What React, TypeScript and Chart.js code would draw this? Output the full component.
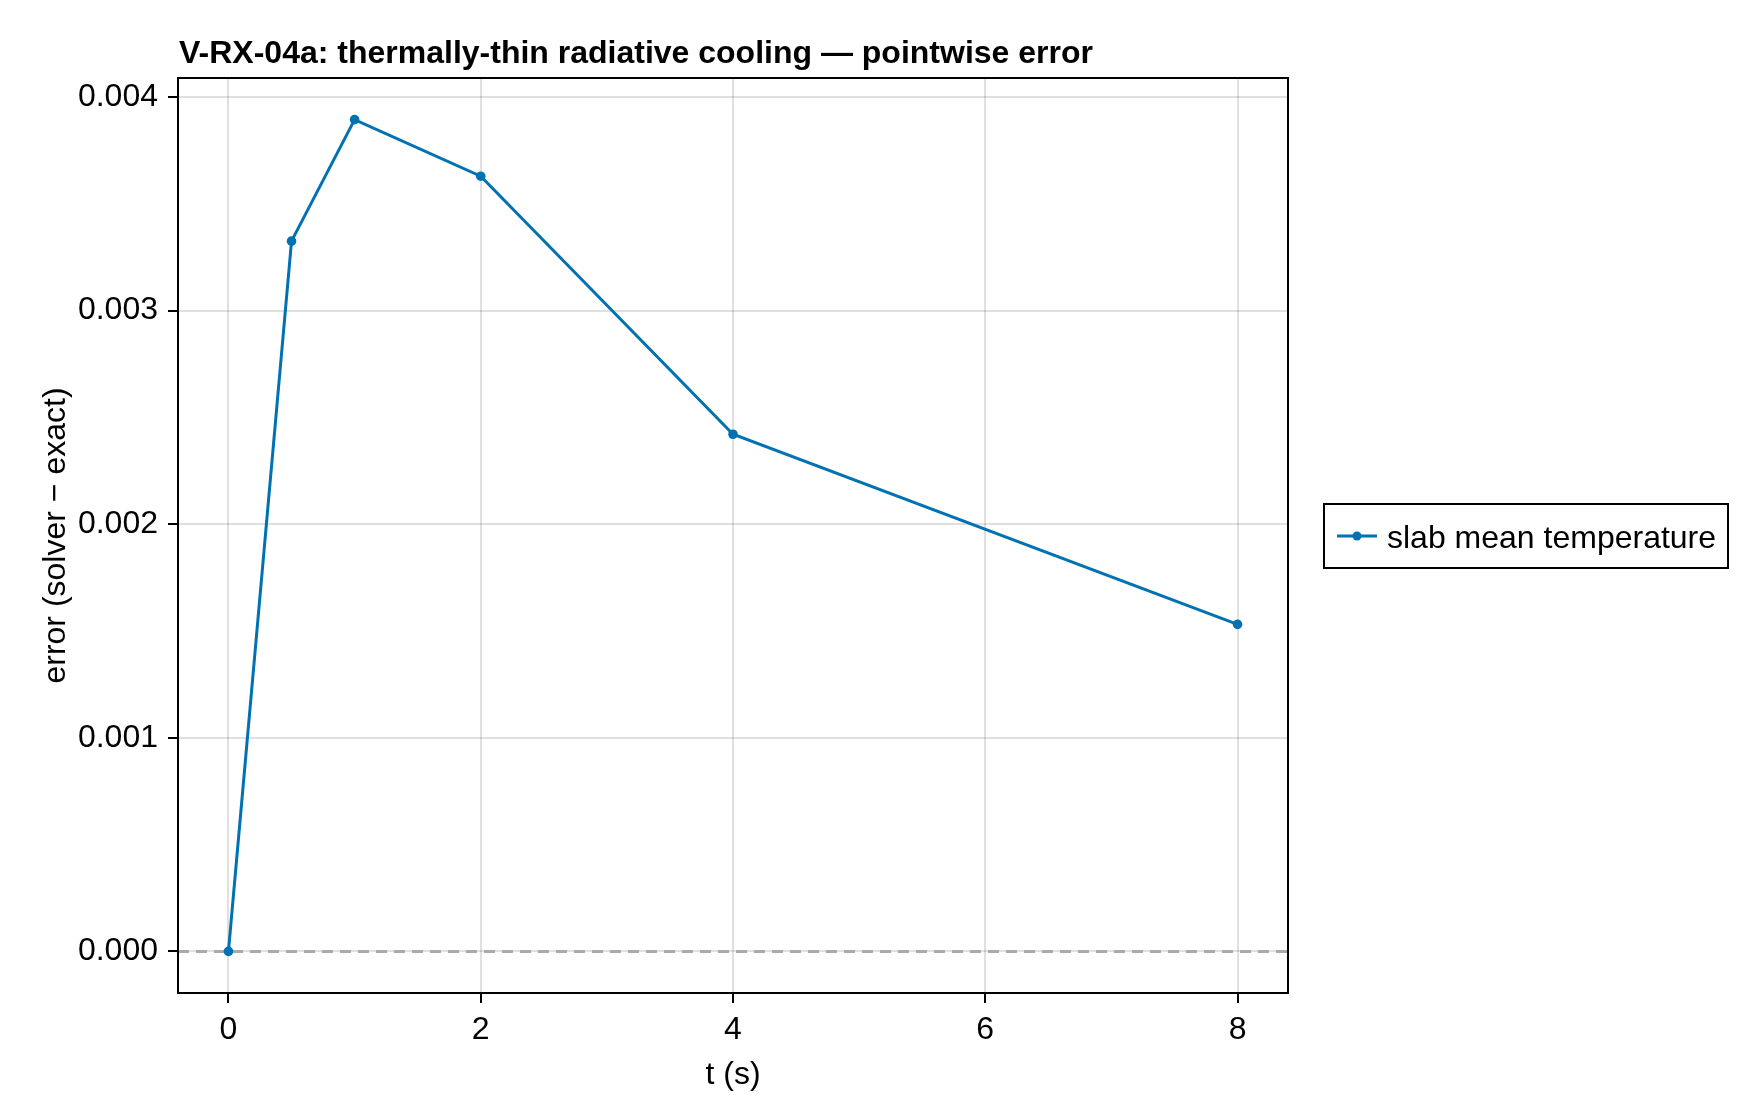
import { useEffect, useRef } from "react";
import { Chart, registerables } from "chart.js";

Chart.register(...registerables);

// ---- data ----
const tValues = [0, 0.5, 1, 2, 4, 8];
const errorValues = [0, 0.003325, 0.003894, 0.003629, 0.002421, 0.001531];
const xTicks = [0, 2, 4, 6, 8];
const yTicks = [0, 0.001, 0.002, 0.003, 0.004];
const seriesLabel = "slab mean temperature";
const referenceLevel = 0;
const titleText = "V-RX-04a: thermally-thin radiative cooling — pointwise error";
const xTitle = "t (s)";
const yTitle = "error (solver − exact)";

const FONT = "'Liberation Sans', Arial, Helvetica, sans-serif";
const BLUE = "#0072B2";

function paddedRange(vals: number[]) {
  const lo = Math.min(...vals);
  const hi = Math.max(...vals);
  const pad = (hi - lo) * 0.05;
  return [lo - pad, hi + pad];
}

const decorPlugin = {
  id: "decor",
  beforeDatasetsDraw(chart: any) {
    const { ctx, chartArea: a, scales } = chart;
    const py = scales.y.getPixelForValue(referenceLevel);
    ctx.save();
    ctx.beginPath();
    ctx.rect(a.left, a.top, a.right - a.left, a.bottom - a.top);
    ctx.clip();
    ctx.strokeStyle = "#aaaaaa";
    ctx.lineWidth = 3;
    ctx.setLineDash([11, 7]);
    ctx.beginPath();
    ctx.moveTo(a.left, py);
    ctx.lineTo(a.right, py);
    ctx.stroke();
    ctx.restore();
  },
  afterDraw(chart: any) {
    const { ctx, chartArea: a } = chart;
    ctx.save();
    // frame
    ctx.strokeStyle = "#000";
    ctx.lineWidth = 2;
    ctx.setLineDash([]);
    ctx.strokeRect(a.left, a.top, a.right - a.left, a.bottom - a.top);
    // title
    ctx.fillStyle = "#000";
    ctx.font = `bold 32px ${FONT}`;
    ctx.textAlign = "left";
    ctx.textBaseline = "alphabetic";
    ctx.fillText(titleText, a.left + 1, 63);
    // legend
    const bx = 1324, by = 504, bw = 404, bh = 64;
    ctx.lineWidth = 2;
    ctx.strokeRect(bx, by, bw, bh);
    const cy = by + bh / 2;
    ctx.strokeStyle = BLUE;
    ctx.lineWidth = 3;
    ctx.beginPath();
    ctx.moveTo(bx + 13, cy);
    ctx.lineTo(bx + 53, cy);
    ctx.stroke();
    ctx.fillStyle = BLUE;
    ctx.beginPath();
    ctx.arc(bx + 33, cy, 4.5, 0, Math.PI * 2);
    ctx.fill();
    ctx.fillStyle = "#000";
    ctx.font = `32px ${FONT}`;
    ctx.textBaseline = "alphabetic";
    ctx.fillText(chart.data.datasets[0].label, bx + 63, cy + 12);
    ctx.restore();
  },
};

export default function App() {
  const ref = useRef<HTMLCanvasElement | null>(null);

  useEffect(() => {
    document.body.style.margin = "0";
    const canvas = ref.current;
    if (!canvas) return;
    const [xMin, xMax] = paddedRange(tValues);
    const [yMin, yMax] = paddedRange(errorValues);

    const chart = new Chart(canvas, {
      type: "line",
      data: {
        datasets: [
          {
            label: seriesLabel,
            data: tValues.map((t, i) => ({ x: t, y: errorValues[i] })),
            borderColor: BLUE,
            backgroundColor: BLUE,
            borderWidth: 3,
            pointRadius: 4.8,
            pointHoverRadius: 4.8,
            pointBorderWidth: 0,
            pointBackgroundColor: BLUE,
            tension: 0,
            fill: false,
          },
        ],
      },
      options: {
        animation: false,
        responsive: false,
        maintainAspectRatio: false,
        devicePixelRatio: 1,
        layout: { padding: { top: 78, right: 472, left: 0, bottom: 0 } },
        plugins: {
          legend: { display: false },
          title: { display: false },
          tooltip: { enabled: false },
        },
        scales: {
          x: {
            type: "linear",
            min: xMin,
            max: xMax,
            afterBuildTicks: (s: any) => {
              s.ticks = xTicks.map((v) => ({ value: v }));
            },
            afterFit: (s: any) => {
              s.height = 127;
            },
            border: { display: false },
            grid: {
              color: "rgba(0,0,0,0.12)",
              lineWidth: 2,
              tickColor: "#000",
              tickLength: 10,
              tickWidth: 2,
            },
            ticks: {
              color: "#000",
              font: { family: FONT, size: 32, lineHeight: 1.2 },
              padding: 8,
              maxRotation: 0,
              autoSkip: false,
              callback: (v: any) => String(v),
            },
            title: {
              display: true,
              text: xTitle,
              color: "#000",
              font: { family: FONT, size: 32, lineHeight: 1.2 },
              padding: { top: 0, bottom: 26 },
            },
          },
          y: {
            type: "linear",
            min: yMin,
            max: yMax,
            afterBuildTicks: (s: any) => {
              s.ticks = yTicks.map((v) => ({ value: v }));
            },
            afterFit: (s: any) => {
              s.width = 178;
            },
            border: { display: false },
            grid: {
              color: "rgba(0,0,0,0.12)",
              lineWidth: 2,
              tickColor: "#000",
              tickLength: 10,
              tickWidth: 2,
            },
            ticks: {
              color: "#000",
              font: { family: FONT, size: 32, lineHeight: 1.2 },
              padding: 10,
              autoSkip: false,
              callback: (v: any) => Number(v).toFixed(3),
            },
            title: {
              display: true,
              text: yTitle,
              color: "#000",
              font: { family: FONT, size: 32, lineHeight: 1.2 },
              padding: { top: 37, bottom: 0 },
            },
          },
        },
      },
      plugins: [decorPlugin],
    });
    return () => chart.destroy();
  }, []);

  return (
    <div style={{ width: 1760, height: 1120, background: "#fff" }}>
      <canvas ref={ref} width={1760} height={1120} style={{ display: "block" }} />
    </div>
  );
}
